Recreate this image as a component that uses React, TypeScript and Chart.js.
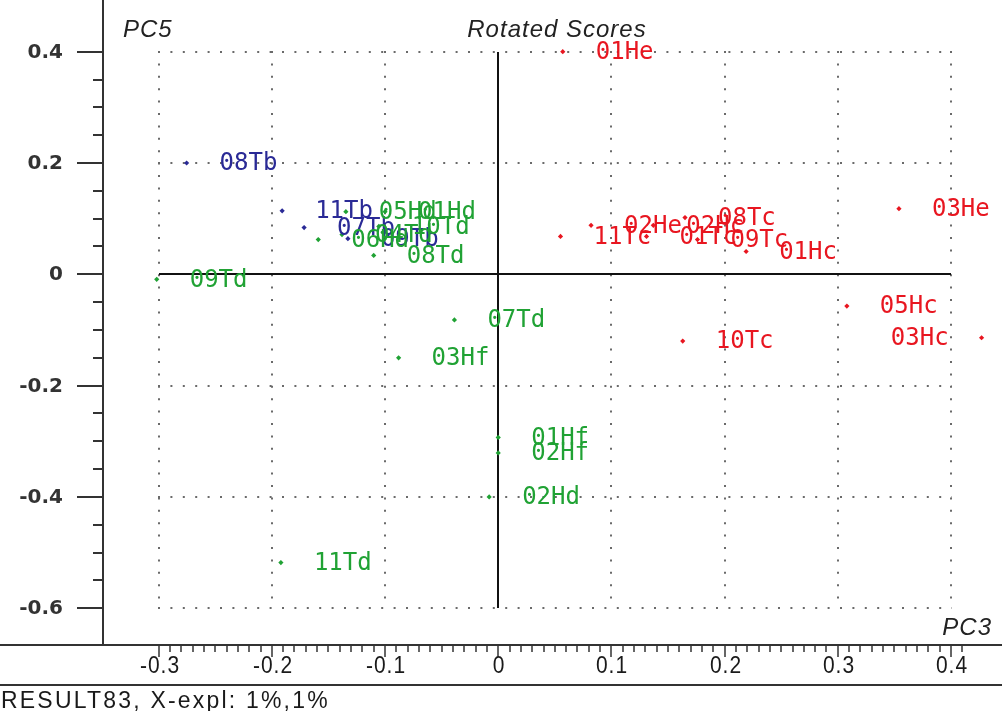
import { useEffect, useRef } from 'react';
import { Chart, registerables } from 'chart.js';

Chart.register(...registerables);

// ---- data ----
const RED_LABELS = ['01He', '03He', '05Hc', '03Hc', '10Tc', '11Tc', '02He', '02Hc', '01Tc', '08Tc', '09Tc', '01Hc'];
const RED_X = [0.057, 0.354, 0.308, 0.427, 0.163, 0.055, 0.082, 0.137, 0.131, 0.165, 0.176, 0.219];
const RED_Y = [0.4, 0.118, -0.057, -0.114, -0.12, 0.068, 0.088, 0.088, 0.068, 0.102, 0.0625, 0.041];

const BLUE_LABELS = ['08Tb', '11Tb', '07Tb', '09Tb'];
const BLUE_X = [-0.2753, -0.1909, -0.1715, -0.1328];
const BLUE_Y = [0.2, 0.114, 0.084, 0.064];

const GREEN_LABELS = ['09Td', '07Td', '03Hf', '01Hf', '02Hf', '02Hd', '11Td', '05Hd', '01Hd', '10Td', '06Hd', '04Td', '08Td'];
const GREEN_X = [-0.3017, -0.0387, -0.088, 0.0, 0.0, -0.008, -0.192, -0.1346, -0.1, -0.1055, -0.159, -0.138, -0.11];
const GREEN_Y = [-0.009, -0.082, -0.15, -0.293, -0.321, -0.4, -0.518, 0.1125, 0.1125, 0.086, 0.0625, 0.0714, 0.034];

const X_TICKS = [-0.3, -0.2, -0.1, 0, 0.1, 0.2, 0.3, 0.4];
const X_TICK_LABELS = ['-0.3', '-0.2', '-0.1', '0', '0.1', '0.2', '0.3', '0.4'];
const Y_TICKS = [0.4, 0.2, 0, -0.2, -0.4, -0.6];
const Y_TICK_LABELS = ['0.4', '0.2', '0', '-0.2', '-0.4', '-0.6'];

const TITLE = 'Rotated Scores';
const Y_NAME = 'PC5';
const X_NAME = 'PC3';
const FOOTER = 'RESULT83, X-expl: 1%,1%';

const RED = 'rgb(232,22,32)';
const BLUE = 'rgb(42,42,150)';
const GREEN = 'rgb(32,162,52)';

function toPoints(xs: number[], ys: number[]) {
  return xs.map((x, i) => ({ x, y: ys[i] }));
}

function tallText(ctx: CanvasRenderingContext2D, text: string, x: number, y: number, sy: number) {
  ctx.save();
  ctx.translate(x, y);
  ctx.scale(1, sy);
  ctx.fillText(text, 0, 0);
  ctx.restore();
}

const decorPlugin = {
  id: 'decor',
  beforeDatasetsDraw(chart: any) {
    const ctx = chart.ctx as CanvasRenderingContext2D;
    const xs = chart.scales.x;
    const ys = chart.scales.y;
    const area = chart.chartArea;
    const W = chart.width;
    const px = (v: number) => Math.round(xs.getPixelForValue(v));
    const py = (v: number) => Math.round(ys.getPixelForValue(v));
    const gx0 = px(X_TICKS[0]);
    const gx1 = px(X_TICKS[X_TICKS.length - 1]);
    const gy0 = py(Y_TICKS[0]);
    const gy1 = py(Y_TICKS[Y_TICKS.length - 1]);

    ctx.save();
    // dotted grid
    ctx.strokeStyle = '#6a6a6a';
    ctx.lineWidth = 2;
    ctx.setLineDash([2, 10.4]);
    X_TICKS.forEach((v) => {
      if (v === 0) return;
      const x = px(v);
      ctx.beginPath();
      ctx.moveTo(x, gy0 - 1);
      ctx.lineTo(x, gy1 + 1);
      ctx.stroke();
    });
    Y_TICKS.forEach((v) => {
      if (v === 0) return;
      const y = py(v);
      ctx.beginPath();
      ctx.moveTo(gx0 - 1, y);
      ctx.lineTo(gx1 + 1, y);
      ctx.stroke();
    });
    ctx.setLineDash([]);

    // zero axes
    ctx.strokeStyle = '#111';
    ctx.lineWidth = 2;
    ctx.beginPath();
    ctx.moveTo(px(0), gy0);
    ctx.lineTo(px(0), gy1);
    ctx.moveTo(gx0, py(0));
    ctx.lineTo(gx1, py(0));
    ctx.stroke();

    // left frame + ticks
    ctx.strokeStyle = '#333';
    ctx.lineWidth = 2;
    const L = area.left + 1;
    ctx.beginPath();
    ctx.moveTo(L, 0);
    ctx.lineTo(L, area.bottom);
    ctx.stroke();
    for (let i = 0; i <= 20; i++) {
      const v = -0.6 + i * 0.05;
      const y = py(v);
      const major = i % 4 === 0;
      ctx.beginPath();
      ctx.moveTo(L - (major ? 26 : 10), y);
      ctx.lineTo(L, y);
      ctx.stroke();
    }

    // bottom axis lines + ticks
    const B = area.bottom;
    ctx.beginPath();
    ctx.moveTo(0, B);
    ctx.lineTo(W, B);
    ctx.moveTo(0, B + 40);
    ctx.lineTo(W, B + 40);
    ctx.stroke();
    ctx.lineWidth = 1.5;
    for (let i = 0; i <= 71; i++) {
      const v = -0.3 + i * 0.01;
      const x = px(v);
      const major = i % 10 === 0;
      ctx.beginPath();
      ctx.moveTo(x, B);
      ctx.lineTo(x, B + (major ? 12 : 7));
      ctx.stroke();
    }

    // y tick labels
    ctx.fillStyle = '#333';
    ctx.font = 'bold 20px "DejaVu Sans"';
    ctx.textAlign = 'right';
    ctx.textBaseline = 'middle';
    Y_TICKS.forEach((v, i) => {
      ctx.fillText(Y_TICK_LABELS[i], 63, py(v) + 1);
    });

    // x tick labels
    ctx.fillStyle = '#1a1a1a';
    ctx.font = '21px "Liberation Sans"';
    (ctx as any).letterSpacing = '1px';
    ctx.textAlign = 'center';
    X_TICKS.forEach((v, i) => {
      tallText(ctx, X_TICK_LABELS[i], px(v) + 1, B + 22, 1.1);
    });

    // footer
    ctx.font = '23px "Liberation Sans"';
    (ctx as any).letterSpacing = '2.2px';
    ctx.textAlign = 'left';
    tallText(ctx, FOOTER, 1, B + 56, 1.08);

    // title & axis names
    ctx.fillStyle = '#222';
    ctx.font = 'italic 24px "Liberation Sans"';
    (ctx as any).letterSpacing = '1px';
    ctx.textAlign = 'center';
    ctx.fillText(TITLE, 557, 30);
    ctx.textAlign = 'left';
    ctx.fillText(Y_NAME, 123, 30);
    ctx.textAlign = 'right';
    ctx.fillText(X_NAME, 992, 628);
    (ctx as any).letterSpacing = '0px';
    ctx.restore();
  },
  afterDatasetsDraw(chart: any) {
    const ctx = chart.ctx as CanvasRenderingContext2D;
    ctx.save();
    ctx.font = '24px "DejaVu Sans Mono"';
    ctx.textBaseline = 'middle';
    chart.data.datasets.forEach((ds: any, di: number) => {
      const meta = chart.getDatasetMeta(di);
      ctx.fillStyle = ds.backgroundColor;
      meta.data.forEach((el: any, j: number) => {
        const text = ds.pointLabels[j];
        const w = ctx.measureText(text).width;
        if (el.x + 33 + w > chart.width) {
          ctx.textAlign = 'right';
          ctx.fillText(text, el.x - 33, el.y + 1);
        } else {
          ctx.textAlign = 'left';
          ctx.fillText(text, el.x + 33, el.y + 1);
        }
      });
    });
    ctx.restore();
  },
};

export default function App() {
  const ref = useRef<HTMLCanvasElement | null>(null);
  useEffect(() => {
    if (!ref.current) return;
    const mk = (labels: string[], xs: number[], ys: number[], color: string) => ({
      data: toPoints(xs, ys),
      pointLabels: labels,
      backgroundColor: color,
      borderColor: color,
      borderWidth: 0,
      pointStyle: 'rectRot',
      pointRadius: 2.6,
      clip: false,
    });
    const chart = new Chart(ref.current, {
      type: 'scatter',
      data: {
        datasets: [
          mk(RED_LABELS, RED_X, RED_Y, RED),
          mk(BLUE_LABELS, BLUE_X, BLUE_Y, BLUE),
          mk(GREEN_LABELS, GREEN_X, GREEN_Y, GREEN),
        ] as any,
      },
      options: {
        animation: false,
        responsive: false,
        devicePixelRatio: 1,
        layout: { padding: { left: 102, right: 0, top: 0, bottom: 66 } },
        plugins: { legend: { display: false }, tooltip: { enabled: false }, title: { display: false } },
        scales: {
          x: { type: 'linear', min: -0.35004, max: 0.44151, display: false },
          y: { type: 'linear', min: -0.66607, max: 0.48571, display: false },
        },
      },
      plugins: [decorPlugin],
    });
    return () => chart.destroy();
  }, []);
  return (
    <div style={{ position: 'absolute', left: 0, top: 0, width: 1002, height: 711, background: '#fff' }}>
      <canvas ref={ref} width={1002} height={711} />
    </div>
  );
}
